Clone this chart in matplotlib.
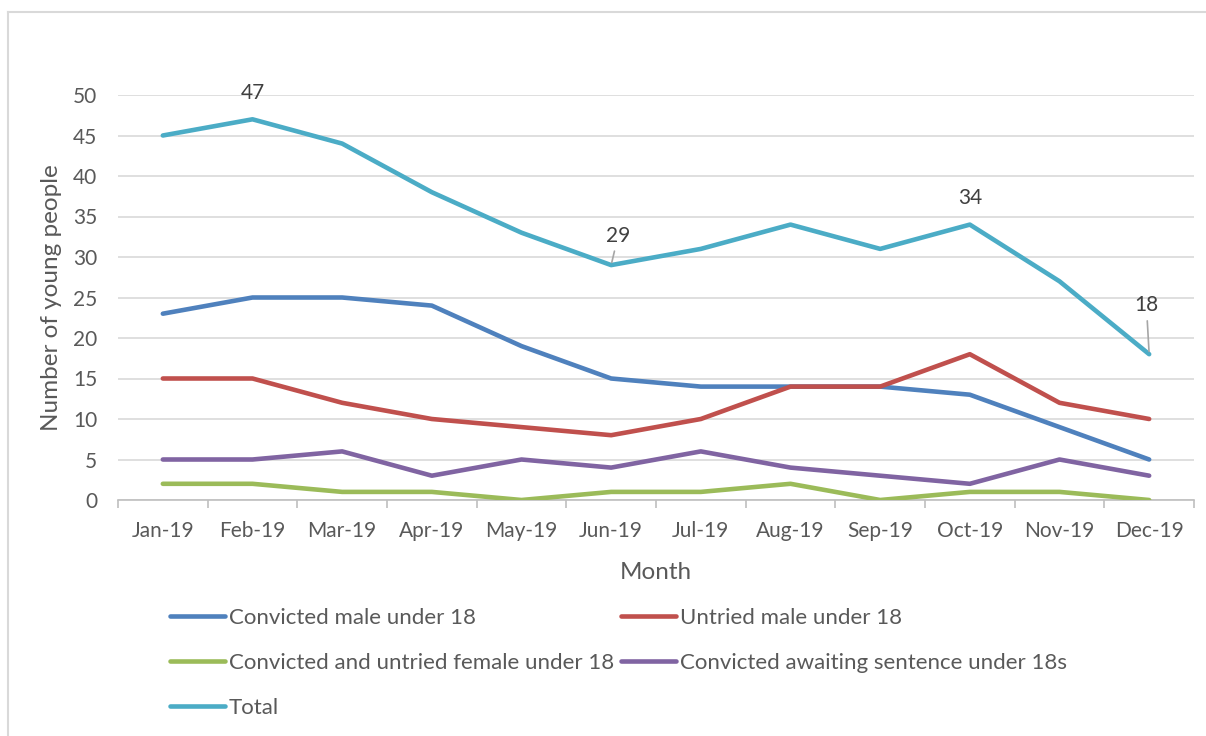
import matplotlib
matplotlib.use("Agg")
import matplotlib.pyplot as plt
from matplotlib.lines import Line2D

plt.rcParams['font.family'] = ['Lato', 'DejaVu Sans']

months = ["Jan-19", "Feb-19", "Mar-19", "Apr-19", "May-19", "Jun-19",
          "Jul-19", "Aug-19", "Sep-19", "Oct-19", "Nov-19", "Dec-19"]
convicted_male = [23, 25, 25, 24, 19, 15, 14, 14, 14, 13, 9, 5]
untried_male = [15, 15, 12, 10, 9, 8, 10, 14, 14, 18, 12, 10]
female = [2, 2, 1, 1, 0, 1, 1, 2, 0, 1, 1, 0]
awaiting = [5, 5, 6, 3, 5, 4, 6, 4, 3, 2, 5, 3]
total = [45, 47, 44, 38, 33, 29, 31, 34, 31, 34, 27, 18]

series = [
    ("Convicted male under 18", convicted_male, "#4F81BD"),
    ("Untried male under 18", untried_male, "#C0504D"),
    ("Convicted and untried female under 18", female, "#9BBB59"),
    ("Convicted awaiting sentence under 18s", awaiting, "#8064A2"),
    ("Total", total, "#4BACC6"),
]

# labelled points on the Total line: index -> (dx, dy) offset in points, leader line
labels = {1: (0, 12, False), 5: (5, 14, True), 9: (0, 12, False), 11: (-2, 28, True)}

text_col = "#595959"
fig = plt.figure(figsize=(12.06, 7.36), dpi=100)
ax = fig.add_axes([118 / 1206, 1 - 500 / 736, (1194 - 118) / 1206, (500 - 95) / 736])

x = list(range(len(months)))
handles = {}
for name, vals, col in series:
    ln, = ax.plot(x, vals, color=col, lw=3.3, solid_capstyle="round",
                  solid_joinstyle="round", zorder=3)
    handles[name] = ln

for i, (dx, dy, lead) in labels.items():
    ax.annotate(str(total[i]), (i, total[i]), xytext=(dx, dy), textcoords="offset points",
                ha="center", va="bottom", fontsize=15, color="#404040",
                arrowprops=dict(arrowstyle="-", color="#A6A6A6", lw=1.2,
                                shrinkA=2, shrinkB=2) if lead else None)

ax.set_xlim(-0.5, len(months) - 0.5)
ax.set_ylim(0, 50)
ax.set_yticks(range(0, 51, 5))
ax.set_xticks(x)
ax.set_xticklabels(months)
ax.set_xticks([i - 0.5 for i in range(len(months) + 1)], minor=True)
ax.yaxis.grid(True, color="#D9D9D9", lw=1.2)
ax.set_axisbelow(True)
for s in ["top", "right", "left"]:
    ax.spines[s].set_visible(False)
ax.spines["bottom"].set_color("#BFBFBF")
ax.spines["bottom"].set_linewidth(1.2)
ax.tick_params(axis="y", length=0, pad=15, labelsize=15, labelcolor=text_col)
ax.tick_params(axis="x", which="major", length=0, pad=15, labelsize=15, labelcolor=text_col)
ax.tick_params(axis="x", which="minor", length=6, width=1.2, color="#BFBFBF")

ax.set_xlabel("Month", fontsize=17.5, color=text_col, labelpad=15)
ax.set_ylabel("Number of young people", fontsize=17.5, color=text_col, labelpad=8)

order = ["Convicted male under 18", "Convicted and untried female under 18", "Total",
         "Untried male under 18", "Convicted awaiting sentence under 18s"]
leg = fig.legend([handles[n] for n in order], order, ncol=2, frameon=False,
                 loc="upper left", bbox_to_anchor=(161 / 1206, 1 - 599 / 736),
                 fontsize=16, handlelength=2.5, handletextpad=0.15,
                 columnspacing=0.3, labelspacing=1.13, borderaxespad=0)
for t in leg.get_texts():
    t.set_color(text_col)

# outer chart border (cropped on the right and bottom)
bx, by = 8 / 1206, 1 - 12 / 736
fig.add_artist(Line2D([bx, bx], [0, by], color="#D9D9D9", lw=1.5))
fig.add_artist(Line2D([bx, 1], [by, by], color="#D9D9D9", lw=1.5))

fig.savefig("out.png", dpi=100)
